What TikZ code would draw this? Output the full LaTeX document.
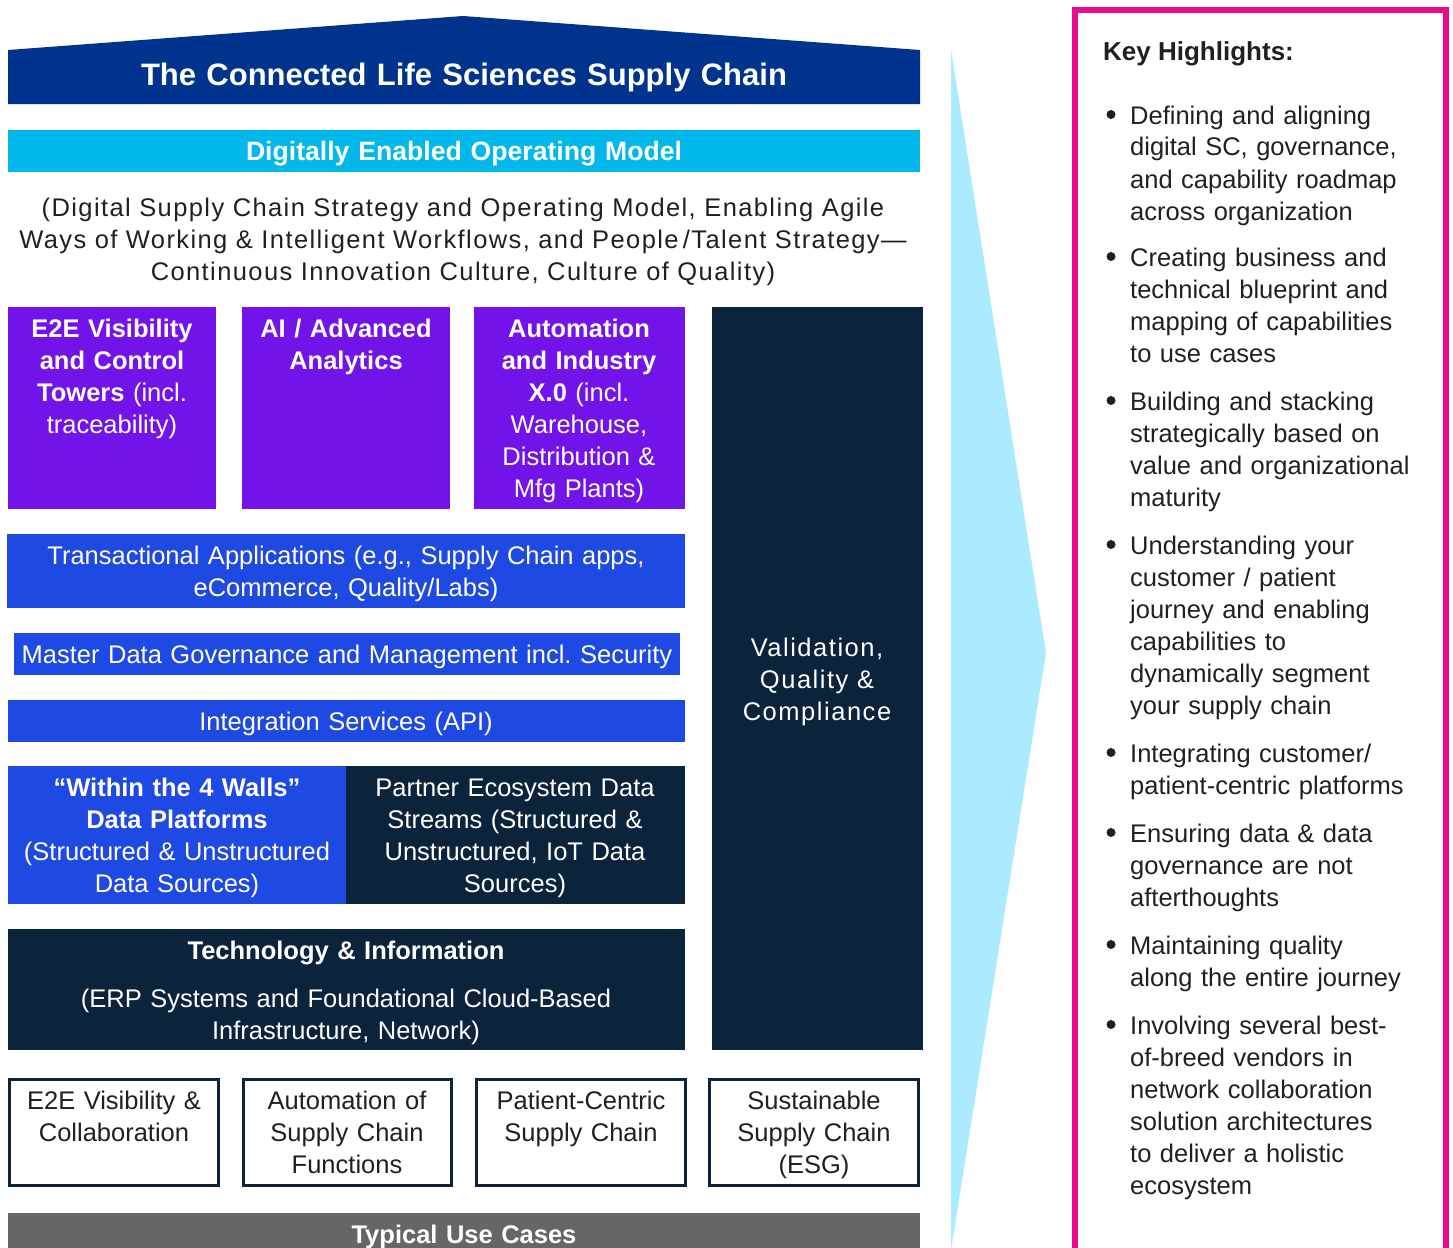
\documentclass[tikz,border=0pt]{standalone}
\usepackage{fontspec}
\setmainfont{Liberation Sans}
\newfontfamily\widefont[LetterSpace=5.5]{Liberation Sans}
\newfontfamily\widerfont[LetterSpace=6]{Liberation Sans}
\definecolor{cnavy}{HTML}{00338D}
\definecolor{csky}{HTML}{00B8EA}
\definecolor{cpurple}{HTML}{7213EA}
\definecolor{ccobalt}{HTML}{1E49E2}
\definecolor{cink}{HTML}{0C233C}
\definecolor{cslate}{HTML}{666666}
\definecolor{cpale}{HTML}{ACEAFF}
\definecolor{cpink}{HTML}{EA0A8C}
\definecolor{ctext}{HTML}{231F20}

% one bullet of the highlights list: name, first baseline, lines
\newcommand{\hlitem}[3]{%
  \node[hldot] (#1-dot) at (1111,{#2-9.5}) {};
  \node[hltext] (#1) at (1130,#2) {#3};}

\begin{document}
\begin{tikzpicture}[x=1pt,y=-1pt,
  bodyfont/.style={font=\fontsize{25.5}{32}\selectfont},
  lbl/.style={bodyfont, inner sep=0, anchor=base, align=center, text width=#1},
  lbl/.default=420,
  wlbl/.style={lbl=#1, text=white},
  wlbl/.default=420,
  hltext/.style={bodyfont, inner sep=0, anchor=base west, align=left, text width=330, text=ctext},
  hldot/.style={circle, fill=ctext, inner sep=0, minimum size=9},
  usebox/.style={draw=cink, line width=3, fill=white},
]
\useasboundingbox (0,0) rectangle (1453,1247);
\clip (0,0) rectangle (1453,1247);

% roof with the title
\fill[cnavy] (8,50) -- (463,16) -- (920,50) -- (920,104) -- (8,104) -- cycle;
\node[wlbl=900, font=\fontsize{31}{36}\selectfont\bfseries] (title) at (464,85)
  {The Connected Life Sciences Supply Chain};

% operating model band
\fill[csky] (8,130) rectangle (920,172);
\node[wlbl=900, font=\fontsize{26.6}{32}\selectfont\bfseries] (opmodel) at (464,160)
  {Digitally Enabled Operating Model};
\node[lbl=1000, text=ctext, font=\fontsize{25.5}{32}\widefont] (opdesc) at (463,216)
  {(Digital Supply Chain Strategy and Operating Model, Enabling Agile\\
   Ways of Working \& Intelligent Workflows, and People\,/Talent Strategy—\\
   Continuous Innovation Culture, Culture of Quality)};

% capability pillars
\fill[cpurple] (8,307) rectangle (216,509);
\fill[cpurple] (242,307) rectangle (450,509);
\fill[cpurple] (474,307) rectangle (685,509);
\node[wlbl] (vis) at (112,337)
  {\textbf{E2E Visibility}\\\textbf{and Control}\\\textbf{Towers} (incl.\\traceability)};
\node[wlbl] (ai) at (346,337)
  {\textbf{AI / Advanced}\\\textbf{Analytics}};
\node[wlbl] (auto) at (579,337)
  {\textbf{Automation}\\\textbf{and Industry}\\\textbf{X.0} (incl.\\Warehouse,\\Distribution \&\\Mfg Plants)};

% validation column
\fill[cink] (712,307) rectangle (923,1050);
\node[wlbl, font=\fontsize{25.5}{32}\widerfont] (valid) at (817,656)
  {Validation,\\Quality \&\\Compliance};

% application and data layers
\fill[ccobalt] (7,534) rectangle (685,608);
\node[wlbl=700] (trans) at (346,564)
  {Transactional Applications (e.g., Supply Chain apps,\\eCommerce, Quality/Labs)};
\fill[ccobalt] (14,633) rectangle (680,675);
\node[wlbl=700] (mdm) at (347,663) {Master Data Governance and Management incl.\ Security};
\fill[ccobalt] (8,700) rectangle (685,742);
\node[wlbl=700] (integ) at (346,730) {Integration Services (API)};

\fill[ccobalt] (8,766) rectangle (346,904);
\fill[cink] (346,766) rectangle (685,904);
\node[wlbl] (walls) at (177,796)
  {\textbf{“Within the 4 Walls”}\\\textbf{Data Platforms}\\(Structured \& Unstructured\\Data Sources)};
\node[wlbl] (partner) at (515,796)
  {Partner Ecosystem Data\\Streams (Structured \&\\Unstructured, IoT Data\\Sources)};

\fill[cink] (8,929) rectangle (685,1050);
\node[wlbl=700] (techhead) at (346,959) {\textbf{Technology \& Information}};
\node[wlbl=700] (techbody) at (346,1007)
  {(ERP Systems and Foundational Cloud-Based\\Infrastructure, Network)};

% typical use cases
\draw[usebox] (9.5,1079.5) rectangle (218.5,1185.5);
\draw[usebox] (243.5,1079.5) rectangle (451.5,1185.5);
\draw[usebox] (476.5,1079.5) rectangle (685.5,1185.5);
\draw[usebox] (709.5,1079.5) rectangle (918.5,1185.5);
\node[lbl, text=ctext] (uc1) at (114,1109) {E2E Visibility \&\\Collaboration};
\node[lbl, text=ctext] (uc2) at (347,1109) {Automation of\\Supply Chain\\Functions};
\node[lbl, text=ctext] (uc3) at (581,1109) {Patient-Centric\\Supply Chain};
\node[lbl, text=ctext] (uc4) at (814,1109) {Sustainable\\Supply Chain\\(ESG)};
\fill[cslate] (8,1213) rectangle (920,1270);
\node[wlbl=900, font=\fontsize{25.5}{32}\selectfont\bfseries] (usecases) at (464,1243)
  {Typical Use Cases};

% pointer towards the highlights
\fill[cpale] (951,50) -- (1046,653) -- (951,1250) -- cycle;

% highlights panel
\draw[cpink, line width=5.5] (1075,10) rectangle (1446,1300);
\node[inner sep=0, anchor=base west, text=ctext, font=\fontsize{26}{32}\selectfont\bfseries]
  (hlhead) at (1103,60) {Key Highlights:};
\hlitem{h1}{124}{Defining and aligning\\digital SC, governance,\\and capability roadmap\\across organization}
\hlitem{h2}{266}{Creating business and\\technical blueprint and\\mapping of capabilities\\to use cases}
\hlitem{h3}{410}{Building and stacking\\strategically based on\\value and organizational\\maturity}
\hlitem{h4}{554}{Understanding your\\customer / patient\\journey and enabling\\capabilities to\\dynamically segment\\your supply chain}
\hlitem{h5}{762}{Integrating customer/\\patient-centric platforms}
\hlitem{h6}{842}{Ensuring data \& data\\governance are not\\afterthoughts}
\hlitem{h7}{954}{Maintaining quality\\along the entire journey}
\hlitem{h8}{1034}{Involving several best-\\of-breed vendors in\\network collaboration\\solution architectures\\to deliver a holistic\\ecosystem}
\end{tikzpicture}
\end{document}
